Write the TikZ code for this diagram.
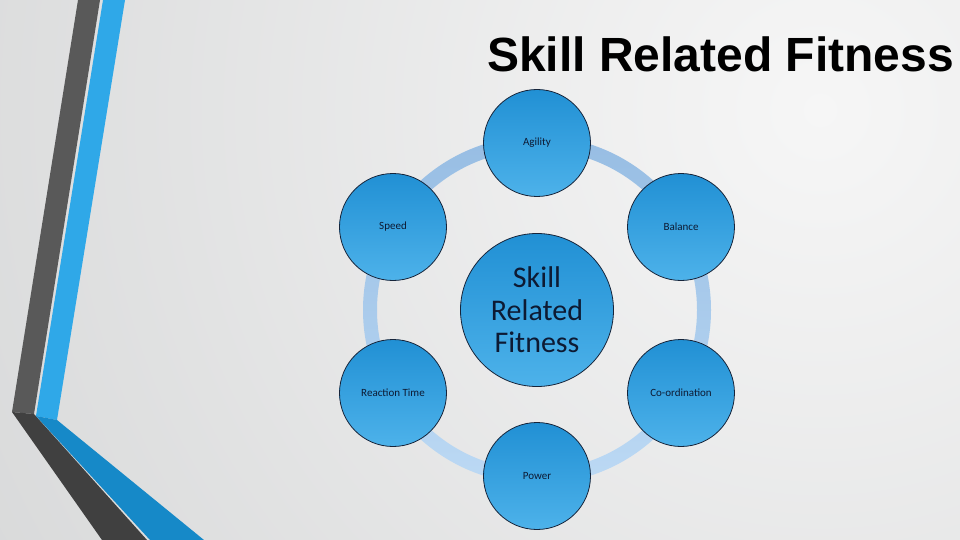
\documentclass[tikz,border=0pt]{standalone}
\usepackage{fontspec}
\setmainfont{Carlito}
\newfontfamily\titlefont{Liberation Sans}
\definecolor{bgA}{HTML}{F6F6F6}
\definecolor{bgB}{HTML}{BDBFC0}
\definecolor{darkU}{HTML}{595959}
\definecolor{darkL}{HTML}{404040}
\definecolor{blueU}{HTML}{2FA8E8}
\definecolor{blueL}{HTML}{1689C8}
\definecolor{ringT}{HTML}{97BDE3}
\definecolor{ringB}{HTML}{BCD9F4}
\definecolor{circT}{HTML}{2190D4}
\definecolor{circM}{HTML}{2A9ADB}
\definecolor{circB}{HTML}{4DB2EA}
\definecolor{edge}{HTML}{16243A}
\definecolor{txt}{HTML}{0D1A33}
\begin{document}
\begin{tikzpicture}[x=1pt,y=-1pt,
  bubble/.style={circle, draw=edge, line width=0.8pt, inner sep=0pt,
    top color=circT, middle color=circM, bottom color=circB,
    text=txt, align=center},
  outer/.style={bubble, minimum size=107pt, font=\fontsize{11}{12}\selectfont},
  hub/.style={bubble, minimum size=153pt, font=\fontsize{30}{32.5}\selectfont}]
\useasboundingbox (0,0) rectangle (960,540);
\begin{scope}
  \clip (0,0) rectangle (960,540);
  \shade[inner color=bgA, outer color=bgB] (820,110) circle (1840pt);
\end{scope}
% left decoration
\fill[darkU] (78,0) -- (100,0) -- (34,414) -- (12,412) -- cycle;
\fill[blueU] (103,0) -- (125,0) -- (57,420) -- (36,416) -- cycle;
\fill[darkL] (12,412) -- (34,414) -- (147,540) -- (102,540) -- cycle;
\fill[blueL] (36,416) -- (57,420) -- (204,540) -- (150,540) -- cycle;
% title
\node[anchor=base west, inner sep=0pt, font=\titlefont\bfseries\fontsize{48}{50}\selectfont] (title) at (487,72) {Skill Related Fitness};
% ring
\coordinate (c) at (537,310);
\shade[top color=ringT, bottom color=ringB, even odd rule] (c) circle (174pt) (c) circle (160pt);
% nodes
\node[hub] (hub) at (c) {Skill\\Related\\Fitness};
\node[outer] (agility) at (537,143) {Agility};
\node[outer] (balance) at (681,227) {Balance};
\node[outer] (coord) at (681,393) {Co-ordination};
\node[outer] (power) at (537,476) {Power};
\node[outer] (react) at (393,393) {Reaction Time};
\node[outer] (speed) at (393,227) {Speed};
\end{tikzpicture}
\end{document}
